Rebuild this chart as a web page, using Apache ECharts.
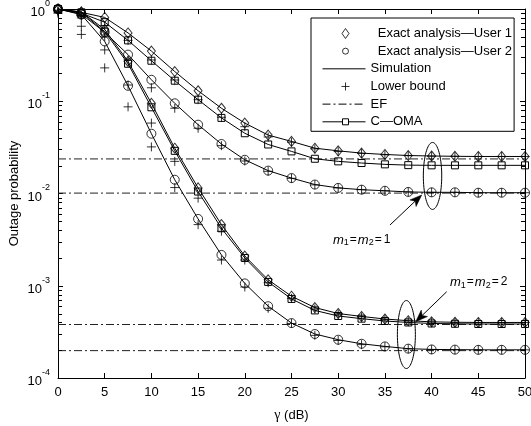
<!DOCTYPE html>
<html>
<head>
<meta charset="utf-8">
<script src="https://cdn.jsdelivr.net/npm/echarts@6/dist/echarts.min.js"></script>
<style>
  html, body { margin: 0; padding: 0; background: #fff; }
  #chart { width: 531px; height: 426px; }
</style>
</head>
<body>
<div id="chart"></div>
<script>
// SNR grid (dB)
const snr = [0, 2.5, 5, 7.5, 10, 12.5, 15, 17.5, 20, 22.5, 25, 27.5, 30, 32.5, 35, 37.5, 40, 42.5, 45, 47.5, 50];

// m1 = m2 = 1
const m1User1 = [1, 0.92, 0.81, 0.55, 0.35, 0.21, 0.13, 0.084, 0.058, 0.043, 0.0367, 0.031, 0.029, 0.0274, 0.0265, 0.0258, 0.0255, 0.0253, 0.0252, 0.0252, 0.0252];
const m1User2 = [1, 0.88, 0.56, 0.32, 0.171, 0.095, 0.0557, 0.0344, 0.0232, 0.0177, 0.0147, 0.0125, 0.0115, 0.011, 0.0107, 0.0104, 0.0103, 0.0103, 0.0102, 0.0102, 0.0102];
const m1Coma = [1, 0.9, 0.72, 0.457, 0.275, 0.167, 0.104, 0.066, 0.045, 0.034, 0.0286, 0.0238, 0.0223, 0.0214, 0.0207, 0.0203, 0.0202, 0.0202, 0.0202, 0.0202, 0.0202];
const m1User1Lb = [0.97, 0.85, 0.66, 0.457, 0.28, 0.17, 0.104, 0.067, 0.053, 0.041, 0.036, 0.0305, 0.0285, 0.0272, 0.0263, 0.0257, 0.0254, 0.0253, 0.0252, 0.0252, 0.0252];
const m1User2Lb = [0.93, 0.8, 0.5, 0.28, 0.14, 0.084, 0.051, 0.033, 0.0225, 0.0174, 0.0146, 0.0124, 0.0115, 0.011, 0.0107, 0.0104, 0.0103, 0.0103, 0.0102, 0.0102, 0.0102];

// m1 = m2 = 2
const m2User1 = [1, 0.93, 0.6, 0.27, 0.095, 0.031, 0.0115, 0.0046, 0.0021, 0.00116, 0.00077, 0.00058, 0.0005, 0.000465, 0.000436, 0.000418, 0.000406, 0.000402, 0.0004, 0.0004, 0.0004];
const m2User2 = [1, 0.87, 0.445, 0.147, 0.0445, 0.0141, 0.0053, 0.00216, 0.00106, 0.0006, 0.000394, 0.0003, 0.00026, 0.000235, 0.00022, 0.000208, 0.000204, 0.000203, 0.000202, 0.000202, 0.000202];
const m2Coma = [1, 0.92, 0.57, 0.255, 0.086, 0.029, 0.0105, 0.0042, 0.002, 0.0011, 0.00072, 0.00054, 0.00047, 0.00044, 0.000415, 0.0004, 0.00039, 0.000387, 0.000385, 0.000385, 0.000385];
const m2User1Lb = [0.95, 0.65, 0.36, 0.15, 0.058, 0.0223, 0.0089, 0.0039, 0.0019, 0.00108, 0.00073, 0.00056, 0.00049, 0.00046, 0.00043, 0.000415, 0.000404, 0.000401, 0.0004, 0.0004, 0.0004];
const m2User2Lb = [0.9, 0.53, 0.23, 0.087, 0.032, 0.0116, 0.0046, 0.0019, 0.00097, 0.00057, 0.00039, 0.00029, 0.000255, 0.00023, 0.000218, 0.000207, 0.000203, 0.000202, 0.000202, 0.000202, 0.000202];

// Error floors (EF)
const efLevels = [0.0237, 0.0101, 0.00038, 0.000198];

// Axis ranges
const snrRange = [0, 50];
const probRange = [1e-4, 1];

// Annotations in data coordinates: [snr, probability]
const ellipseM1 = [40.1, 0.0155];
const ellipseM2 = [37.3, 0.000296];
const arrowM1 = { from: [35.55, 0.00456], to: [38.94, 0.00964] };
const arrowM2 = { from: [41.62, 0.000862], to: [38.3, 0.000408] };
const labelM1 = { at: [29.44, 0.0031], text: '1' };
const labelM2 = { at: [41.97, 0.00108], text: '2' };

const FONT = 'Liberation Sans, Arial, Helvetica, sans-serif';
const NAME_U1 = 'Exact analysis\u2014User 1';
const NAME_U2 = 'Exact analysis\u2014User 2';
const NAME_SIM = 'Simulation';
const NAME_LB = 'Lower bound';
const NAME_EF = 'EF';
const NAME_COMA = 'C\u2014OMA';

const PLUS = 'path://M0,5L10,5M5,0L5,10';
const hollow = { color: 'rgba(0,0,0,0)', borderColor: '#000', borderWidth: 1 };

function pairs(vals) { return snr.map((x, i) => [x, vals[i]]); }

function simLine(vals) {
  return {
    type: 'line', name: NAME_SIM, data: pairs(vals), symbol: 'none',
    lineStyle: { color: '#000', width: 1 }, itemStyle: { color: '#000' },
    silent: true, animation: false, z: 2
  };
}
function comaLine(vals) {
  return {
    type: 'line', name: NAME_COMA, data: pairs(vals), symbol: 'rect', symbolSize: 7,
    showAllSymbol: true, lineStyle: { color: '#000', width: 1 }, itemStyle: hollow,
    silent: true, animation: false, z: 3
  };
}
function markers(name, vals, symbol, size) {
  return {
    type: 'scatter', name: name, data: pairs(vals), symbol: symbol, symbolSize: size,
    itemStyle: hollow, silent: true, animation: false, z: 4
  };
}
function efLine(level) {
  return {
    type: 'line', name: NAME_EF, data: [[snrRange[0], level], [snrRange[1], level]], symbol: 'none',
    lineStyle: { color: '#222', width: 1, type: [8, 3, 2, 3] }, itemStyle: { color: '#000' },
    silent: true, animation: false, z: 1
  };
}

// log-axis minor ticks (2..9 in each decade)
const minorTicks = [];
for (let d = -4; d < 0; d++) for (let k = 2; k <= 9; k++) minorTicks.push(k * Math.pow(10, d));

const series = [
  efLine(efLevels[0]), efLine(efLevels[1]), efLine(efLevels[2]), efLine(efLevels[3]),
  simLine(m1User1), simLine(m1User2), simLine(m2User1), simLine(m2User2),
  comaLine(m1Coma), comaLine(m2Coma),
  markers(NAME_U1, m1User1, 'diamond', [8, 10]),
  markers(NAME_U1, m2User1, 'diamond', [8, 10]),
  markers(NAME_U2, m1User2, 'circle', 9),
  markers(NAME_U2, m2User2, 'circle', 9),
  markers(NAME_LB, m1User1Lb, PLUS, 9),
  markers(NAME_LB, m1User2Lb, PLUS, 9),
  markers(NAME_LB, m2User1Lb, PLUS, 9),
  markers(NAME_LB, m2User2Lb, PLUS, 9),
  {
    type: 'custom', data: minorTicks.map(v => [0, v]), silent: true, animation: false, z: 5, clip: false,
    renderItem: function (params, api) {
      const y = Math.round(api.coord([0, api.value(1)])[1]) + 0.5;
      const cs = params.coordSys;
      const st = { stroke: '#000', lineWidth: 1 };
      return {
        type: 'group', children: [
          { type: 'line', shape: { x1: cs.x, y1: y, x2: cs.x + 4, y2: y }, style: st },
          { type: 'line', shape: { x1: cs.x + cs.width - 4, y1: y, x2: cs.x + cs.width, y2: y }, style: st }
        ]
      };
    }
  }
];

const axisLine = { show: true, onZero: false, lineStyle: { color: '#000', width: 1 } };
const tickStyle = { show: true, inside: true, length: 5, lineStyle: { color: '#000', width: 1 } };

const option = {
  backgroundColor: '#fff',
  animation: false,
  grid: { left: 58, right: 6, top: 9, bottom: 48, containLabel: false, outerBoundsMode: 'none' },
  xAxis: [
    {
      type: 'value', position: 'bottom', min: snrRange[0], max: snrRange[1], interval: 5,
      axisLine: axisLine, axisTick: tickStyle, splitLine: { show: false },
      axisLabel: { color: '#000', fontSize: 13, margin: 8, fontFamily: FONT },
      name: '{g|\u03b3} (dB)', nameLocation: 'middle', nameGap: 30, nameMoveOverlap: false,
      nameTextStyle: {
        color: '#000', fontSize: 13, fontFamily: FONT,
        rich: { g: { fontFamily: 'Liberation Serif, DejaVu Serif, serif', fontSize: 14, color: '#000' } }
      }
    },
    {
      type: 'value', position: 'top', min: snrRange[0], max: snrRange[1], interval: 5,
      axisLine: axisLine, axisTick: tickStyle, splitLine: { show: false }, axisLabel: { show: false }
    }
  ],
  yAxis: [
    {
      type: 'log', logBase: 10, min: probRange[0], max: probRange[1], position: 'left',
      axisLine: axisLine, axisTick: tickStyle, splitLine: { show: false }, minorTick: { show: false },
      axisLabel: {
        margin: 8, color: '#000', fontFamily: FONT,
        formatter: function (v) {
          const e = Math.round(Math.log10(v));
          return '{b|10}{s|' + e + '}';
        },
        rich: {
          b: { fontSize: 13, lineHeight: 20, verticalAlign: 'bottom', color: '#000', fontFamily: FONT },
          s: { fontSize: 9, verticalAlign: 'top', color: '#000', fontFamily: FONT }
        }
      },
      name: 'Outage probability', nameLocation: 'middle', nameGap: 37, nameRotate: 90, nameMoveOverlap: false,
      nameTextStyle: { color: '#000', fontSize: 13, fontFamily: FONT }
    },
    {
      type: 'log', logBase: 10, min: probRange[0], max: probRange[1], position: 'right',
      axisLine: axisLine, axisTick: tickStyle, splitLine: { show: false }, axisLabel: { show: false }
    }
  ],
  legend: {
    orient: 'vertical', left: 311, top: 18,
    itemWidth: 46, itemHeight: 12, itemGap: 0.66,
    padding: [7, 2, 1, 6],
    borderColor: '#000', borderWidth: 1, borderRadius: 0, backgroundColor: '#fff',
    selectedMode: false,
    textStyle: { fontSize: 13, color: '#000', fontFamily: FONT, lineHeight: 12 },
    itemStyle: { color: 'none', borderColor: '#000', borderWidth: 1 },
    formatter: function (name) { return name.indexOf('Exact') === 0 ? '  ' + name : name; },
    data: [
      { name: NAME_U1, icon: 'path://M0,0M46,12M26,1L29.5,6L26,11L22.5,6Z' },
      { name: NAME_U2, icon: 'path://M0,0M46,12M29,6A3,3,0,1,1,23,6A3,3,0,1,1,29,6Z' },
      { name: NAME_SIM, icon: 'path://M0,0M46,12M3,6L46,6' },
      { name: NAME_LB, icon: 'path://M0,0M46,12M22,6L30,6M26,2L26,10' },
      { name: NAME_EF, icon: 'path://M0,0M46,12M3,6L46,6', itemStyle: { borderType: [8, 3, 2, 3] } },
      { name: NAME_COMA, icon: 'path://M0,0M46,12M3,6L23,6M29,6L46,6M23,3L29,3L29,9L23,9Z' }
    ]
  },
  series: series
};

const chart = echarts.init(document.getElementById('chart'), null, { renderer: 'canvas' });
chart.setOption(option);

// Annotations: ellipses, arrows and parameter labels
function px(p) { return chart.convertToPixel({ xAxisIndex: 0, yAxisIndex: 0 }, p); }

function ellipse(center, rx, ry) {
  const c = px(center);
  const pts = [];
  for (let i = 0; i < 72; i++) {
    const t = (i / 72) * Math.PI * 2;
    pts.push([c[0] + rx * Math.cos(t), c[1] + ry * Math.sin(t)]);
  }
  return { type: 'polygon', shape: { points: pts }, style: { fill: 'none', stroke: '#000', lineWidth: 1 }, z: 10, silent: true };
}

function arrow(a) {
  const p0 = px(a.from), p1 = px(a.to);
  const dx = p1[0] - p0[0], dy = p1[1] - p0[1];
  const len = Math.sqrt(dx * dx + dy * dy);
  const ux = dx / len, uy = dy / len, nx = -uy, ny = ux;
  const hl = 12, hw = 4.5, notch = 3;
  const base = [p1[0] - ux * hl, p1[1] - uy * hl];
  const head = [
    p1,
    [base[0] + nx * hw, base[1] + ny * hw],
    [p1[0] - ux * (hl - notch), p1[1] - uy * (hl - notch)],
    [base[0] - nx * hw, base[1] - ny * hw]
  ];
  return [
    { type: 'line', shape: { x1: p0[0], y1: p0[1], x2: base[0] + ux * notch, y2: base[1] + uy * notch }, style: { stroke: '#000', lineWidth: 1 }, z: 10, silent: true },
    { type: 'polygon', shape: { points: head }, style: { fill: '#000', stroke: '#000', lineWidth: 0.5 }, z: 10, silent: true }
  ];
}

function paramLabel(l) {
  const p = px(l.at);
  return {
    type: 'text', x: p[0], y: p[1], z: 10, silent: true,
    style: {
      text: '{m|m}{s|1}{e|=}{m|m}{s|2}{e|=}{e|' + l.text + '}',
      align: 'left', verticalAlign: 'middle',
      rich: {
        m: { fontSize: 13, fontStyle: 'italic', fontFamily: FONT, fill: '#000', lineHeight: 14, verticalAlign: 'top' },
        e: { fontSize: 12, fontFamily: FONT, fill: '#000', lineHeight: 14, verticalAlign: 'top', padding: [0, 1, 0, 1] },
        s: { fontSize: 9, fontFamily: FONT, fill: '#000', lineHeight: 10, padding: [8, 0, 0, 0], verticalAlign: 'bottom' }
      }
    }
  };
}

chart.setOption({
  graphic: [
    ellipse(ellipseM1, 9.2, 33.5),
    ellipse(ellipseM2, 9, 34),
    ...arrow(arrowM1),
    ...arrow(arrowM2),
    paramLabel(labelM1),
    paramLabel(labelM2)
  ]
});
</script>
</body>
</html>
